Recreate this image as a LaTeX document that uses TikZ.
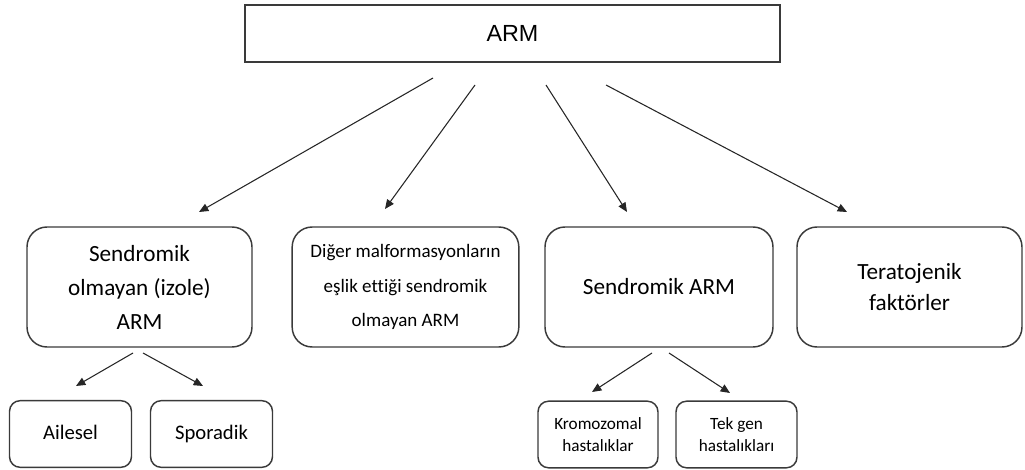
\documentclass[tikz,border=0pt]{standalone}
\usepackage{fontspec}
\setmainfont{Carlito}[Ligatures={NoCommon}]
\newfontfamily\arialf{Liberation Sans}
\usetikzlibrary{arrows.meta}
\definecolor{bord}{HTML}{3A3A3A}
\begin{document}
\begin{tikzpicture}[x=0.75pt,y=-0.75pt,
  topbox/.style={draw=bord,line width=1.1pt,minimum width=401pt,minimum height=42.75pt,inner sep=0pt,font=\arialf\fontsize{17.5}{20}\selectfont},
  midbox/.style={draw=bord,line width=1.1pt,rounded corners=15pt,inner sep=0pt,align=center},
  lowbox/.style={draw=bord,line width=1.1pt,rounded corners=8pt,minimum width=91.5pt,minimum height=50pt,inner sep=0pt,align=center},
  oneline/.style={text height=11pt,text depth=3.5pt},
  arr/.style={draw=black!85,line width=0.8pt,-{Triangle[length=7pt,width=6pt]}}]
\useasboundingbox (0,0) rectangle (1025,470);
% top
\node[topbox] (arm) at (512.5,33.5) {ARM};
% level 2
\node[midbox,minimum width=168.75pt,minimum height=90pt,font=\fontsize{17.4}{25.5}\selectfont] (izole) at (139.5,287) {Sendromik\\olmayan (izole)\\ARM};
\node[midbox,minimum width=170pt,minimum height=90pt,font=\fontsize{14.25}{26}\selectfont] (diger) at (405.5,287) {Diğer malformasyonların\\eşlik ettiği sendromik\\olmayan ARM};
\node[midbox,minimum width=171pt,minimum height=90pt,font=\fontsize{17.4}{25.5}\selectfont] (sendr) at (659,287) {Sendromik ARM};
\node[midbox,minimum width=168.75pt,minimum height=90pt,font=\fontsize{17.4}{23}\selectfont] (terat) at (909.5,287) {Teratojenik\\faktörler};
% level 3
\node[lowbox,oneline,font=\fontsize{15.5}{18}\selectfont] (ailesel) at (70.5,434) {Ailesel};
\node[lowbox,oneline,font=\fontsize{15.5}{18}\selectfont] (sporadik) at (211.5,434) {Sporadik};
\node[lowbox,minimum width=90pt,font=\fontsize{12.9}{16.5}\selectfont] (kromo) at (598,434.5) {Kromozomal\\hastalıklar};
\node[lowbox,minimum width=90.75pt,font=\fontsize{12.9}{16.5}\selectfont] (tekgen) at (736.5,434.5) {Tek gen\\hastalıkları};
% arrow end points
\coordinate (s1) at (433,78);  \coordinate (e1) at (199,212);
\coordinate (s2) at (475,85);  \coordinate (e2) at (385,209);
\coordinate (s3) at (546,85);  \coordinate (e3) at (627,212);
\coordinate (s4) at (606,85);  \coordinate (e4) at (847,212);
\coordinate (s5) at (133,353); \coordinate (e5) at (76,386);
\coordinate (s6) at (143,353); \coordinate (e6) at (203,386);
\coordinate (s7) at (652,353); \coordinate (e7) at (592,392);
\coordinate (s8) at (669,353); \coordinate (e8) at (730,393);
\draw[arr] (s1) -- (e1);
\draw[arr] (s2) -- (e2);
\draw[arr] (s3) -- (e3);
\draw[arr] (s4) -- (e4);
\draw[arr] (s5) -- (e5);
\draw[arr] (s6) -- (e6);
\draw[arr] (s7) -- (e7);
\draw[arr] (s8) -- (e8);
\end{tikzpicture}
\end{document}
